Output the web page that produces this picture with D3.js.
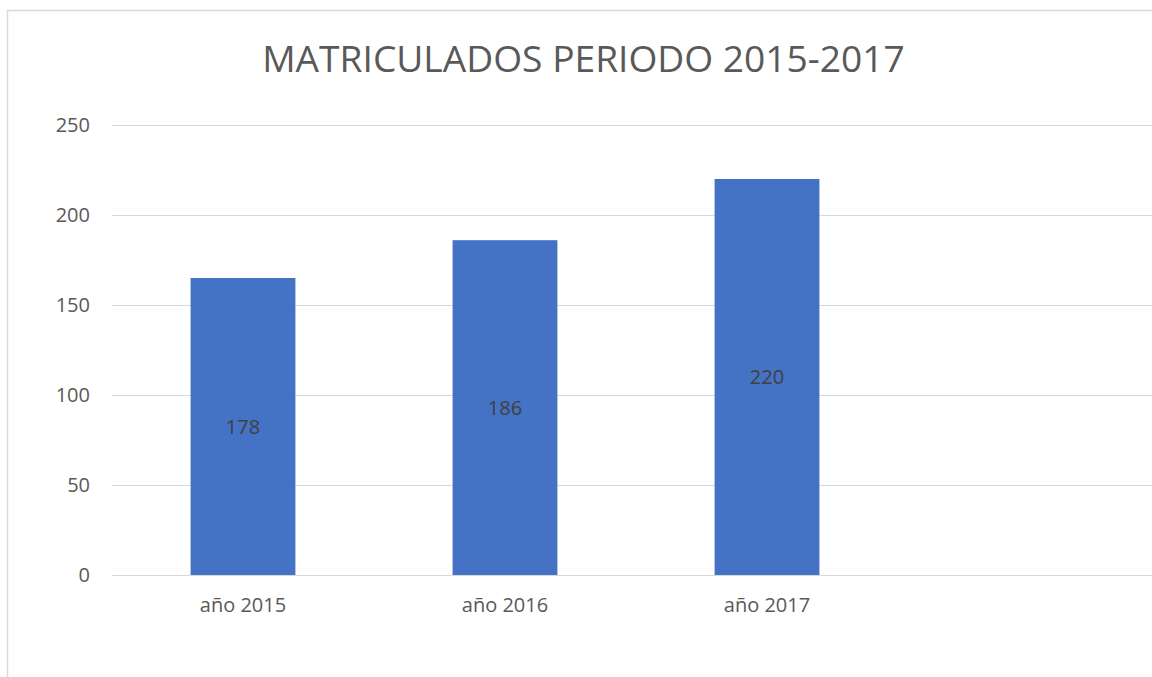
<!DOCTYPE html>
<html>
<head>
<meta charset="utf-8">
<script src="https://cdn.jsdelivr.net/npm/d3@7"></script>
<style>
  body { margin: 0; background: #fff; }
  text { font-family: "Open Sans", "Noto Sans", sans-serif; }
</style>
</head>
<body>
<div id="chart"></div>
<script>
// data
var categories = ["año 2015", "año 2016", "año 2017", ""];
var values = [165, 186, 220, null];          // bar heights
var labels = ["178", "186", "220", ""];       // printed labels
var yTicks = [0, 50, 100, 150, 200, 250];
var title = "MATRICULADOS PERIODO 2015-2017";

var totalWidth = 1152, totalHeight = 677;
var margin = {top: 125, left: 112, bottom: 102};
var plotWidth = 1048;   // runs off the right edge, like the reference
var height = totalHeight - margin.top - margin.bottom;

var svg = d3.select("#chart")
  .append("svg")
    .attr("width", totalWidth)
    .attr("height", totalHeight);

// chart frame
svg.append("rect")
  .attr("x", 7.5).attr("y", 10.5)
  .attr("width", 1200).attr("height", 720)
  .attr("fill", "#fff")
  .attr("stroke", "#d9d9d9")
  .attr("stroke-width", 1.5);

// title
var t = svg.append("text")
  .attr("x", 583.5)
  .attr("y", 72)
  .attr("text-anchor", "middle")
  .style("font-size", "34px")
  .style("fill", "#595959")
  .text(title);
// fit to the reference width
var w = t.node().getComputedTextLength();
t.style("font-size", (34 * 643 / w) + "px");

var g = svg.append("g")
  .attr("transform", "translate(" + margin.left + "," + margin.top + ")");

var x = d3.scaleBand()
  .domain(d3.range(categories.length))
  .range([0, plotWidth])
  .paddingInner(0.6)
  .paddingOuter(0.3);

var y = d3.scaleLinear()
  .domain([0, 250])
  .range([height, 0]);

// gridlines
g.selectAll(".grid")
  .data(yTicks)
  .enter()
  .append("line")
    .attr("x1", 0)
    .attr("x2", plotWidth)
    .attr("y1", function(d) { return Math.round(y(d)) + 0.5; })
    .attr("y2", function(d) { return Math.round(y(d)) + 0.5; })
    .attr("stroke", "#d9d9d9")
    .attr("stroke-width", 1.2);

// y axis labels
var yAxis = g.append("g")
  .call(d3.axisLeft(y).tickValues(yTicks).tickSize(0).tickPadding(22));
yAxis.select(".domain").remove();
yAxis.selectAll("text")
  .style("font-size", "20px")
  .style("fill", "#595959")
  .style("font-family", "'Open Sans', sans-serif");

// x axis labels
var xAxis = g.append("g")
  .attr("transform", "translate(0," + height + ")")
  .call(d3.axisBottom(x).tickFormat(function(i) { return categories[i]; })
        .tickSize(0).tickPadding(23));
xAxis.select(".domain").remove();
xAxis.selectAll("text")
  .style("font-size", "20px")
  .style("fill", "#595959")
  .style("font-family", "'Open Sans', sans-serif");

// bars
var barData = values.map(function(v, i) { return {i: i, v: v, label: labels[i]}; })
  .filter(function(d) { return d.v != null; });

g.selectAll(".bar")
  .data(barData)
  .enter()
  .append("rect")
    .attr("x", function(d) { return x(d.i); })
    .attr("y", function(d) { return y(d.v); })
    .attr("width", x.bandwidth())
    .attr("height", function(d) { return height - y(d.v); })
    .attr("fill", "#4472c4");

// labels inside bars
g.selectAll(".lbl")
  .data(barData)
  .enter()
  .append("text")
    .attr("x", function(d) { return x(d.i) + x.bandwidth() / 2; })
    .attr("y", function(d) { return (y(d.v) + height) / 2; })
    .attr("dy", "0.35em")
    .attr("text-anchor", "middle")
    .style("font-size", "20px")
    .style("fill", "#404040")
    .text(function(d) { return d.label; });
</script>
</body>
</html>
